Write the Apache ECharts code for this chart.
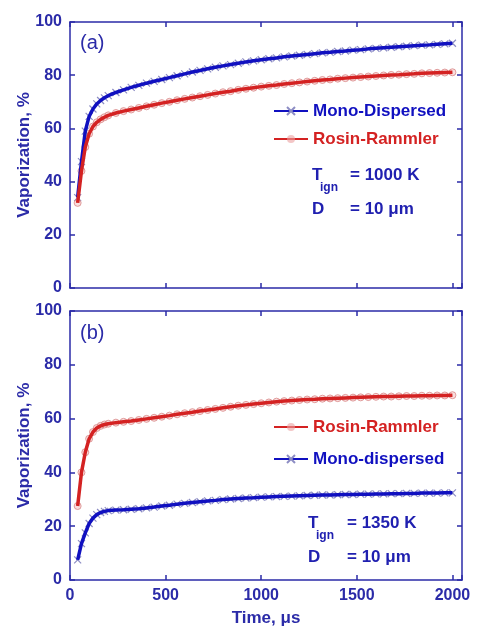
<!DOCTYPE html>
<html>
<head>
<meta charset="utf-8">
<script src="https://cdn.jsdelivr.net/npm/echarts@6/dist/echarts.min.js"></script>
<style>
  html, body { margin: 0; padding: 0; background: #fff; }
  #chart { width: 477px; height: 630px; }
</style>
</head>
<body>
<div id="chart"></div>
<script>
// time points (µs), shared by all curves
const times = [40, 60, 80, 100, 120, 140, 160, 180, 200,
  240, 280, 320, 360, 400, 440, 480, 520, 560,
  600, 640, 680, 720, 760, 800, 840, 880, 920,
  960, 1000, 1040, 1080, 1120, 1160, 1200, 1240, 1280,
  1320, 1360, 1400, 1440, 1480, 1520, 1560, 1600, 1640,
  1680, 1720, 1760, 1800, 1840, 1880, 1920, 1960, 2000]

// (a) Tign = 1000 K
const monoA = [34, 47.5, 59, 64.5, 67.3, 69.2, 70.5, 71.5, 72.3,
  73.5, 74.5, 75.4, 76.2, 77.0, 77.7, 78.4, 79.1, 79.8,
  80.5, 81.2, 81.8, 82.4, 83.0, 83.5, 84.0, 84.5, 85.0,
  85.4, 85.8, 86.2, 86.5, 86.9, 87.2, 87.5, 87.8, 88.1,
  88.4, 88.6, 88.9, 89.1, 89.4, 89.6, 89.9, 90.1, 90.3,
  90.5, 90.7, 90.9, 91.1, 91.3, 91.4, 91.6, 91.8, 92.0]
const rosinA = [32, 44, 53, 58, 60.7, 62.3, 63.4, 64.2, 64.9,
  65.8, 66.5, 67.1, 67.7, 68.3, 68.9, 69.5, 70.0, 70.6,
  71.1, 71.6, 72.1, 72.6, 73.1, 73.6, 74.0, 74.5, 74.9,
  75.3, 75.7, 76.0, 76.3, 76.7, 77.0, 77.3, 77.6, 77.9,
  78.2, 78.4, 78.7, 78.9, 79.1, 79.3, 79.5, 79.7, 79.9,
  80.1, 80.2, 80.4, 80.5, 80.7, 80.8, 80.9, 81.0, 81.1]

// (b) Tign = 1350 K
const rosinB = [27.5, 40, 47.5, 52.5, 55, 56.5, 57.3, 57.8, 58.1,
  58.5, 58.8, 59.1, 59.5, 59.9, 60.3, 60.7, 61.1, 61.6,
  62.0, 62.4, 62.8, 63.2, 63.6, 64.0, 64.4, 64.8, 65.1,
  65.4, 65.7, 66.0, 66.3, 66.5, 66.7, 66.9, 67.1, 67.2,
  67.4, 67.5, 67.6, 67.7, 67.8, 67.9, 68.0, 68.1, 68.2,
  68.2, 68.3, 68.4, 68.4, 68.5, 68.5, 68.6, 68.6, 68.7]
const monoB = [7.5, 13.5, 17.5, 21, 23, 24.3, 25.1, 25.5, 25.8,
  26.0, 26.1, 26.3, 26.5, 26.8, 27.1, 27.5, 27.8, 28.2,
  28.5, 28.8, 29.1, 29.4, 29.6, 29.9, 30.1, 30.3, 30.5,
  30.6, 30.8, 30.9, 31.0, 31.1, 31.2, 31.3, 31.4, 31.5,
  31.6, 31.6, 31.7, 31.8, 31.8, 31.9, 31.9, 32.0, 32.0,
  32.1, 32.1, 32.2, 32.2, 32.3, 32.3, 32.3, 32.4, 32.4]

const AXIS = '#2b2ba8'
const BLUE = '#1010c0'
const RED = '#d42222'
const FONT = 'Liberation Sans'
const CROSS = 'path://M0,0L10,10M10,0L0,10'

const chart = echarts.init(document.getElementById('chart'))

const pairs = vals => times.map((t, i) => [t, vals[i]])

const xAxisBase = (gridIndex, bottom) => ({
  type: 'value',
  gridIndex,
  position: bottom ? 'bottom' : 'top',
  min: 0,
  max: 2050,
  interval: 500,
  splitLine: { show: false },
  axisLine: { onZero: false, lineStyle: { color: AXIS, width: 1.5 } },
  axisTick: { inside: true, length: 5, lineStyle: { color: AXIS, width: 1.5 } },
  axisLabel: { show: false }
})

const yAxisBase = (gridIndex, left) => ({
  type: 'value',
  gridIndex,
  position: left ? 'left' : 'right',
  min: 0,
  max: 100,
  interval: 20,
  splitLine: { show: false },
  axisLine: { onZero: false, lineStyle: { color: AXIS, width: 1.5 } },
  axisTick: { inside: true, length: 5, lineStyle: { color: AXIS, width: 1.5 } },
  axisLabel: left
    ? { show: true, margin: 8, color: AXIS, fontFamily: FONT, fontWeight: 'bold', fontSize: 16 }
    : { show: false },
  name: left ? 'Vaporization, %' : '',
  nameLocation: 'middle',
  nameGap: 37,
  nameMoveOverlap: false,
  nameTextStyle: { color: AXIS, fontFamily: FONT, fontWeight: 'bold', fontSize: 17 }
})

const xBottomB = xAxisBase(1, true)
xBottomB.axisLabel = {
  show: true, margin: 8, color: AXIS, fontFamily: FONT, fontWeight: 'bold', fontSize: 16,
  formatter: v => (v % 500 === 0 ? String(v) : '')
}
xBottomB.name = 'Time, μs'
xBottomB.nameLocation = 'middle'
xBottomB.nameGap = 30
xBottomB.nameTextStyle = { color: AXIS, fontFamily: FONT, fontWeight: 'bold', fontSize: 17 }

// each curve: pale markers underneath, solid line on top
// axis 0/1 belong to panel (a), 2/3 to panel (b)
const curve = (name, vals, ai, color, mono) => {
  const symbol = mono ? CROSS : 'circle'
  const markStyle = mono
    ? { color: 'none', borderColor: '#8d8dc4', borderWidth: 1.2 }
    : { color: 'rgba(235,160,160,0.35)', borderColor: 'rgba(215,130,130,0.75)', borderWidth: 1 }
  return [
    {
      name: name + ' markers',
      type: 'line',
      xAxisIndex: ai, yAxisIndex: ai,
      data: pairs(vals),
      symbol, symbolSize: 7,
      showSymbol: true,
      itemStyle: markStyle,
      lineStyle: { width: 0, opacity: 0 },
      z: 2,
      silent: true
    },
    {
      name,
      type: 'line',
      xAxisIndex: ai, yAxisIndex: ai,
      data: pairs(vals),
      symbol, symbolSize: 7,
      showSymbol: false,
      itemStyle: mono ? { color: BLUE, borderColor: '#8d8dc4', borderWidth: 1.2 } : { color: 'rgba(235,160,160,0.6)', borderColor: 'rgba(215,130,130,0.9)' },
      lineStyle: { color, width: 3.5 },
      z: 3
    }
  ]
}

const txt = (x, y, text, size, color, weight) => ({
  type: 'text', x, y,
  style: {
    text, fill: color, font: `${weight || 'bold'} ${size}px "${FONT}"`,
    verticalAlign: 'middle', align: 'left'
  }
})

const option = {
  animation: false,
  grid: [
    { left: 70, right: 15, top: 22, bottom: 342, outerBoundsMode: 'none' },
    { left: 70, right: 15, top: 311, bottom: 50, outerBoundsMode: 'none' }
  ],
  xAxis: [xAxisBase(0, true), xAxisBase(0, false), xBottomB, xAxisBase(1, false)],
  yAxis: [yAxisBase(0, true), yAxisBase(0, false), yAxisBase(1, true), yAxisBase(1, false)],
  legend: [
    {
      data: [
        { name: 'Mono-Dispersed', textStyle: { color: BLUE } },
        { name: 'Rosin-Rammler', textStyle: { color: RED } }
      ],
      orient: 'vertical', left: 268, top: 97,
      itemWidth: 34, itemHeight: 10, itemGap: 10,
      textStyle: { fontFamily: FONT, fontWeight: 'bold', fontSize: 17, lineHeight: 18 },
      selectedMode: false
    },
    {
      data: [
        { name: 'Rosin-Rammler ', textStyle: { color: RED } },
        { name: 'Mono-dispersed', textStyle: { color: BLUE } }
      ],
      orient: 'vertical', left: 268, top: 413,
      itemWidth: 34, itemHeight: 10, itemGap: 14,
      textStyle: { fontFamily: FONT, fontWeight: 'bold', fontSize: 17, lineHeight: 18 },
      selectedMode: false
    }
  ],
  series: [
    ...curve('Mono-Dispersed', monoA, 0, BLUE, true),
    ...curve('Rosin-Rammler', rosinA, 0, RED, false),
    ...curve('Rosin-Rammler ', rosinB, 2, RED, false),
    ...curve('Mono-dispersed', monoB, 2, BLUE, true)
  ],
  graphic: [
    txt(80, 43, '(a)', 20, AXIS, 'normal'),
    txt(80, 333, '(b)', 20, AXIS, 'normal'),
    txt(312, 175, 'T', 17, '#2020b0'),
    txt(320, 188, 'ign', 12, '#2020b0'),
    txt(350, 175, '= 1000 K', 17, '#2020b0'),
    txt(312, 209, 'D', 17, '#2020b0'),
    txt(350, 209, '= 10 μm', 17, '#2020b0'),
    txt(308, 523, 'T', 17, '#2020b0'),
    txt(316, 536, 'ign', 12, '#2020b0'),
    txt(347, 523, '= 1350 K', 17, '#2020b0'),
    txt(308, 557, 'D', 17, '#2020b0'),
    txt(347, 557, '= 10 μm', 17, '#2020b0')
  ]
}

chart.setOption(option)
</script>
</body>
</html>
